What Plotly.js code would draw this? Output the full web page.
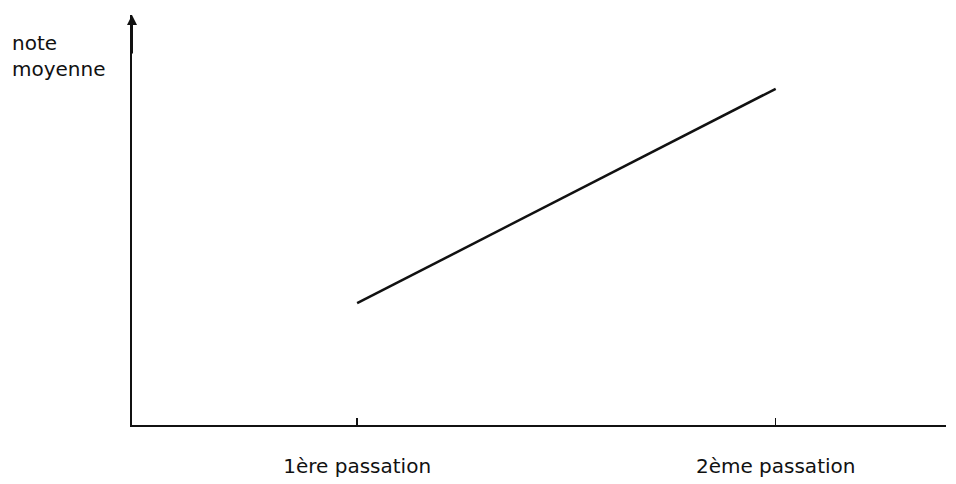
<!DOCTYPE html>
<html>
<head>
<meta charset="utf-8">
<script src="https://cdn.plot.ly/plotly-3.0.1.min.js"></script>
<style>html,body{margin:0;padding:0;background:#fff;}#chart{width:956px;height:484px;}</style>
</head>
<body>
<div id="chart"></div>
<script>
// Data
const sessions = ['1ère passation', '2ème passation'];
const meanScore = [2.97, 8.2];
const yTitleLines = ['note', 'moyenne'];

const FONT = 'DejaVu Sans, Liberation Sans, Arial, sans-serif';

const trace = {
  x: sessions,
  y: meanScore,
  type: 'scatter',
  mode: 'lines',
  line: {color: '#111', width: 2.5},
  hoverinfo: 'skip'
};

const layout = {
  width: 956,
  height: 484,
  margin: {l: 132, r: 10, t: 15, b: 59},
  paper_bgcolor: '#fff',
  plot_bgcolor: '#fff',
  showlegend: false,
  font: {family: FONT, size: 20, color: '#111'},
  xaxis: {
    type: 'category',
    range: [-0.538, 1.407],
    showgrid: false,
    zeroline: false,
    showline: true,
    linecolor: '#111',
    linewidth: 2,
    ticks: 'inside',
    ticklen: 7,
    tickwidth: 1.5,
    tickcolor: '#111',
    ticklabelstandoff: 22,
    tickfont: {family: FONT, size: 20, color: '#111'},
    fixedrange: true
  },
  yaxis: {
    range: [0, 10],
    showgrid: false,
    zeroline: false,
    showline: true,
    linecolor: '#111',
    linewidth: 2,
    ticks: '',
    showticklabels: false,
    fixedrange: true
  },
  annotations: [
    {
      xref: 'paper', yref: 'paper', x: 0, y: 1,
      ax: 0, ay: 40, axref: 'pixel', ayref: 'pixel',
      text: '', showarrow: true, arrowhead: 2, arrowsize: 1, arrowwidth: 2,
      arrowcolor: '#111'
    },
    {
      xref: 'paper', yref: 'paper', x: -0.15, y: 0.965,
      xanchor: 'left', yanchor: 'top', align: 'left',
      text: yTitleLines.join('<br>'), showarrow: false,
      font: {family: FONT, size: 20, color: '#111'}
    }
  ]
};

Plotly.newPlot('chart', [trace], layout, {displayModeBar: false, staticPlot: true});
</script>
</body>
</html>
